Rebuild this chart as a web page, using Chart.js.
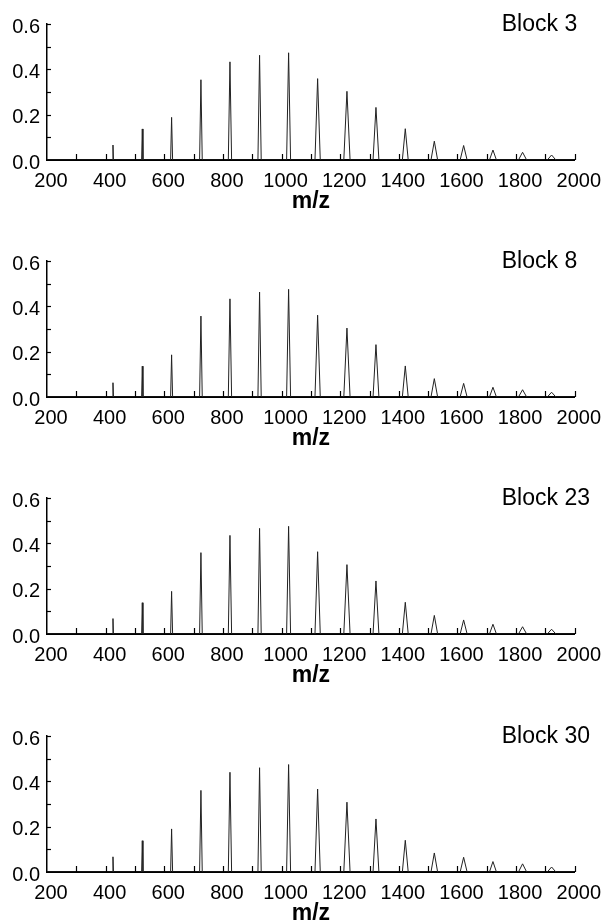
<!DOCTYPE html>
<html><head><meta charset="utf-8">
<script src="https://cdn.jsdelivr.net/npm/chart.js@4.4.1/dist/chart.umd.min.js"></script>
<style>
html,body{margin:0;padding:0;background:#fff;width:606px;height:921px;overflow:hidden;}
.panel{position:absolute;left:0;width:606px;height:237px;}
</style></head><body>
<div class="panel" style="top:0px"><canvas id="c0" width="606" height="237"></canvas></div>
<div class="panel" style="top:237px"><canvas id="c1" width="606" height="237"></canvas></div>
<div class="panel" style="top:474px"><canvas id="c2" width="606" height="237"></canvas></div>
<div class="panel" style="top:712px"><canvas id="c3" width="606" height="237"></canvas></div>
<script>
// ---- data ----
const blockNames = ['Block 3', 'Block 8', 'Block 23', 'Block 30'];
const peakMz = [425, 525, 625, 725, 824, 925, 1024, 1123, 1223, 1322, 1422, 1521, 1621, 1721, 1822, 1921];
const peakHalfWidth = [1.7, 2.3, 3.4, 4.5, 5.6, 5.6, 6.8, 9, 10.7, 10, 10, 11.3, 11.9, 11.9, 14, 14.7];
const block3  = [0.066, 0.137, 0.188, 0.354, 0.433, 0.462, 0.473, 0.359, 0.303, 0.232, 0.138, 0.083, 0.064, 0.044, 0.034, 0.022];
const block8  = [0.063, 0.136, 0.186, 0.357, 0.433, 0.463, 0.475, 0.361, 0.304, 0.231, 0.137, 0.081, 0.060, 0.043, 0.032, 0.021];
const block23 = [0.068, 0.138, 0.188, 0.359, 0.435, 0.466, 0.475, 0.363, 0.306, 0.234, 0.140, 0.082, 0.062, 0.043, 0.032, 0.021];
const block30 = [0.067, 0.138, 0.190, 0.360, 0.440, 0.460, 0.474, 0.366, 0.308, 0.234, 0.140, 0.084, 0.065, 0.046, 0.036, 0.022];
const xTickLabels = [200, 400, 600, 800, 1000, 1200, 1400, 1600, 1800, 2000];
const xMinorTicks = [300, 400, 500, 600, 700, 800, 900, 1000, 1100, 1200, 1300, 1400, 1500, 1600, 1700, 1800, 1900, 2000];
const yTickLabels = [0, 0.2, 0.4, 0.6];
const yMinorTicks = [0.1, 0.2, 0.3, 0.4, 0.5, 0.6];
const xRange = [200, 2000];
const yRange = [0, 0.6];
const xTitle = 'm/z';

const blocks = [block3, block8, block23, block30];

Chart.defaults.font.family = '"Liberation Sans", Arial, Helvetica, sans-serif';
Chart.defaults.color = '#000';

function spectrum(heights) {
  const pts = [{x: xRange[0], y: 0}];
  peakMz.forEach((c, i) => {
    pts.push({x: c - peakHalfWidth[i], y: 0});
    pts.push({x: c, y: heights[i]});
    pts.push({x: c + peakHalfWidth[i], y: 0});
  });
  pts.push({x: xRange[1], y: 0});
  return pts;
}

const innerTicks = {
  id: 'innerTicks',
  afterDraw(chart, args, opts) {
    const {ctx, scales: {x, y}, chartArea: a} = chart;
    ctx.save();
    ctx.strokeStyle = '#000';
    ctx.lineWidth = 1.2;
    xMinorTicks.forEach(v => {
      const px = Math.round(x.getPixelForValue(v)) + 0.5;
      ctx.beginPath(); ctx.moveTo(px, a.bottom); ctx.lineTo(px, a.bottom - 6); ctx.stroke();
    });
    yMinorTicks.forEach(v => {
      const py = Math.round(y.getPixelForValue(v)) + 0.5;
      ctx.beginPath(); ctx.moveTo(a.left, py); ctx.lineTo(a.left + 4, py); ctx.stroke();
    });
    ctx.font = '23px "Liberation Sans", Arial, Helvetica, sans-serif';
    ctx.fillStyle = '#000';
    ctx.textAlign = 'left';
    ctx.textBaseline = 'alphabetic';
    ctx.fillText(opts.label, a.right - 73, a.top + 7);
    ctx.restore();
  }
};

blocks.forEach((heights, i) => {
  new Chart(document.getElementById('c' + i), {
    type: 'scatter',
    data: {
      datasets: [{
        data: spectrum(heights),
        showLine: true,
        borderColor: '#222',
        borderWidth: 1,
        pointRadius: 0,
        tension: 0,
        fill: false
      }]
    },
    plugins: [innerTicks],
    options: {
      responsive: false,
      animation: false,
      devicePixelRatio: 1,
      layout: {padding: {top: 24, right: 28, left: 0, bottom: 0}},
      plugins: {
        legend: {display: false},
        tooltip: {enabled: false},
        innerTicks: {label: blockNames[i]}
      },
      scales: {
        x: {
          type: 'linear',
          min: xRange[0], max: xRange[1],
          afterBuildTicks: s => { s.ticks = xTickLabels.map(v => ({value: v})); },
          afterFit: s => { s.height = 77; },
          grid: {display: false, drawTicks: false},
          border: {display: true, color: '#000', width: 2},
          ticks: {
            font: {size: 20}, color: '#000', padding: 9, labelOffset: 4,
            maxRotation: 0, autoSkip: false,
            callback: v => String(v)
          },
          title: {display: true, text: xTitle, font: {size: 23, weight: 'bold'}, color: '#000', padding: {top: 0, bottom: 22}}
        },
        y: {
          type: 'linear',
          min: yRange[0], max: yRange[1],
          afterBuildTicks: s => { s.ticks = yTickLabels.map(v => ({value: v})); },
          afterFit: s => { s.width = 47; },
          grid: {display: false, drawTicks: false},
          border: {display: true, color: '#000', width: 1.5},
          ticks: {
            font: {size: 20}, color: '#000', padding: 7, labelOffset: 3,
            callback: v => Number(v).toFixed(1)
          }
        }
      }
    }
  });
});
</script>
</body></html>
